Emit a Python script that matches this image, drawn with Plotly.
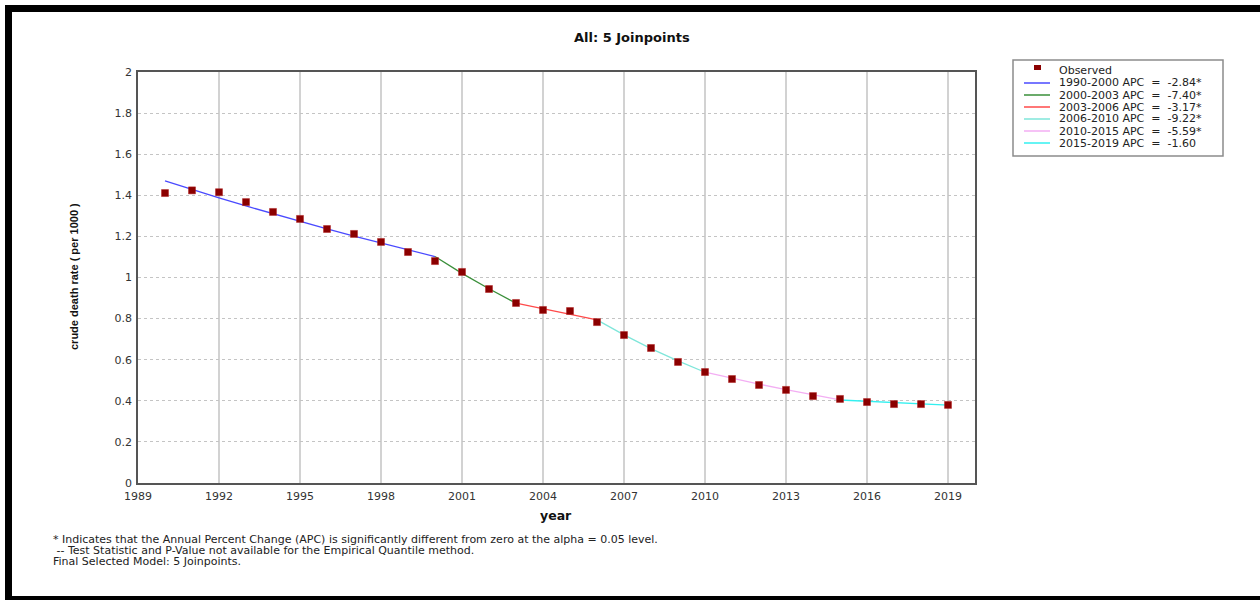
import plotly.graph_objects as go

# ---------------- data ----------------
years = list(range(1990, 2020))
observed = [1.411, 1.424, 1.415, 1.367, 1.319, 1.285, 1.236, 1.212, 1.173, 1.124,
            1.080, 1.027, 0.944, 0.876, 0.842, 0.837, 0.783, 0.720, 0.657, 0.589,
            0.540, 0.506, 0.477, 0.453, 0.423, 0.409, 0.394, 0.384, 0.384, 0.380]
fitted = [1.470, 1.428, 1.388, 1.348, 1.310, 1.273, 1.237, 1.201, 1.167, 1.134,
          1.102, 1.020, 0.945, 0.875, 0.847, 0.820, 0.794, 0.721, 0.654, 0.594,
          0.539, 0.509, 0.481, 0.454, 0.428, 0.404, 0.398, 0.391, 0.385, 0.379]
segment_labels = ["1990-2000 APC  =  -2.84*", "2000-2003 APC  =  -7.40*",
                  "2003-2006 APC  =  -3.17*", "2006-2010 APC  =  -9.22*",
                  "2010-2015 APC  =  -5.59*", "2015-2019 APC  =  -1.60"]
segment_bounds = [(1990, 2000), (2000, 2003), (2003, 2006), (2006, 2010), (2010, 2015), (2015, 2019)]
segment_colors = ["#4a4aff", "#3a8f3a", "#ff4a4a", "#7fe6da", "#f3aef3", "#33f0f0"]
x_ticks = list(range(1989, 2020, 3))
y_ticks = [0, 0.2, 0.4, 0.6, 0.8, 1, 1.2, 1.4, 1.6, 1.8, 2]
title = "All: 5 Joinpoints"
footnote_lines = ["* Indicates that the Annual Percent Change (APC) is significantly different from zero at the alpha = 0.05 level.",
                  " -- Test Statistic and P-Value not available for the Empirical Quantile method.",
                  "Final Selected Model: 5 Joinpoints."]

# ---------------- layout geometry ----------------
# page body margin is removed below, so page pixels == figure pixels
OFF = 0
W, H = 1260, 600
PL, PR, PT, PB = 138, 975, 72, 483          # plot area in page pixels
L, R, T, B = PL - OFF, PR - OFF, PT - OFF, PB - OFF
PW, PH = R - L, B - T


def xp(px):  # page px -> paper
    return (px - OFF - L) / PW


def yp(py):  # page py -> paper
    return (B - (py - OFF)) / PH


TXT = "DejaVu Sans"

fig = go.Figure()

# fitted segments
for (a, b), col, lab in zip(segment_bounds, segment_colors, segment_labels):
    xs = [y for y in years if a <= y <= b]
    ys = [fitted[years.index(y)] for y in xs]
    fig.add_trace(go.Scatter(x=xs, y=ys, mode="lines", name=lab,
                             line=dict(color=col, width=1.3), showlegend=False,
                             hoverinfo="skip"))

# observed points
fig.add_trace(go.Scatter(x=years, y=observed, mode="markers", name="Observed",
                         marker=dict(symbol="square", size=7, color="#8b0000",
                                     line=dict(width=0.5, color="#b02020")),
                         showlegend=False))

shapes = []
annotations = []

# outer black frame (top, left, bottom) in page pixels
for x0, y0, x1, y1 in [(5, 5, 1260, 12), (5, 5, 12, 598), (5, 596, 1260, 600)]:
    shapes.append(dict(type="rect", xref="paper", yref="paper",
                       x0=xp(x0), x1=xp(x1), y0=yp(y1), y1=yp(y0),
                       fillcolor="black", line=dict(width=0), layer="above"))

# manual legend box
shapes.append(dict(type="rect", xref="paper", yref="paper",
                   x0=xp(1013), x1=xp(1223), y0=yp(156), y1=yp(60),
                   fillcolor="white", line=dict(color="#8c8c8c", width=1.5)))
row0, step = 71, 12
shapes.append(dict(type="rect", xref="paper", yref="paper",
                   x0=xp(1034), x1=xp(1041), y0=yp(row0 - 1), y1=yp(row0 - 6),
                   fillcolor="#8b0000", line=dict(width=0)))
annotations.append(dict(xref="paper", yref="paper", x=xp(1057), y=yp(row0),
                        text="Observed", showarrow=False, xanchor="left", yanchor="middle",
                        font=dict(family=TXT, size=11, color="#222")))
for i, (lab, col) in enumerate(zip(segment_labels, segment_colors)):
    ry = row0 + step * (i + 1)
    shapes.append(dict(type="line", xref="paper", yref="paper",
                       x0=xp(1024), x1=xp(1050), y0=yp(ry), y1=yp(ry),
                       line=dict(color=col, width=1.5)))
    annotations.append(dict(xref="paper", yref="paper", x=xp(1057), y=yp(ry),
                            text=lab, showarrow=False, xanchor="left", yanchor="middle",
                            font=dict(family=TXT, size=11, color="#222")))

# title
annotations.append(dict(xref="paper", yref="paper", x=xp(632), y=yp(37),
                        text="<b>" + title + "</b>", showarrow=False,
                        xanchor="center", yanchor="middle",
                        font=dict(family=TXT, size=13, color="#111")))
# y axis title
annotations.append(dict(xref="paper", yref="paper", x=xp(74), y=yp(277),
                        text="<b>crude death rate ( per 1000 )</b>", showarrow=False,
                        textangle=-90, xanchor="center", yanchor="middle",
                        font=dict(family="Liberation Sans", size=11, color="#111")))
# x axis title
annotations.append(dict(xref="paper", yref="paper", x=xp(556), y=yp(515),
                        text="<b>year</b>", showarrow=False,
                        xanchor="center", yanchor="middle",
                        font=dict(family=TXT, size=12.5, color="#111")))
# footnote lines
for i, line in enumerate(footnote_lines):
    annotations.append(dict(xref="paper", yref="paper", x=xp(51), y=yp(539 + 11 * i),
                            text=line, showarrow=False, align="left",
                            xanchor="left", yanchor="middle",
                            font=dict(family=TXT, size=11, color="#222")))

fig.update_layout(
    width=W, height=H,
    margin=dict(l=L, r=W - R, t=T, b=H - B, pad=0),
    paper_bgcolor="white", plot_bgcolor="white",
    shapes=shapes, annotations=annotations,
    showlegend=False,
    xaxis=dict(range=[1989, 2020], tickmode="array", tickvals=x_ticks,
               ticktext=[str(t) for t in x_ticks],
               showgrid=True, gridcolor="#d2d2d2", gridwidth=2,
               showline=True, linecolor="#555", linewidth=1.5, mirror=True,
               ticks="", zeroline=False, ticklabelstandoff=2,
               tickfont=dict(family=TXT, size=11, color="#333")),
    yaxis=dict(range=[0, 2], tickmode="array", tickvals=y_ticks,
               ticktext=[("%g" % v) for v in y_ticks],
               showgrid=True, gridcolor="#c4c4c4", gridwidth=1, griddash="dot",
               showline=True, linecolor="#555", linewidth=1.5, mirror=True,
               ticks="", zeroline=False, ticklabelstandoff=2,
               tickfont=dict(family=TXT, size=11, color="#333")),
)

fig.write_html("out.html",
               config={"displayModeBar": False},
               post_script="document.body.style.margin='0';document.body.style.overflow='hidden';")
